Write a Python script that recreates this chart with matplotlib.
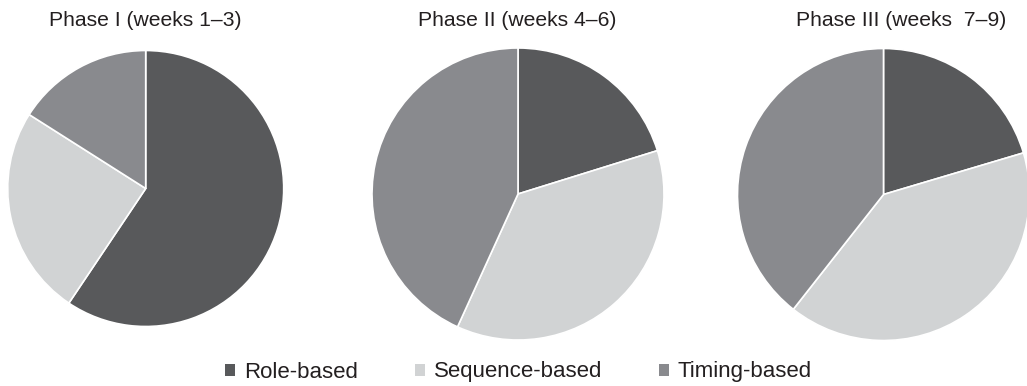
import matplotlib.pyplot as plt
from matplotlib.patches import Patch

plt.rcParams['font.family'] = ['Liberation Sans', 'DejaVu Sans']

categories = ["Role-based", "Sequence-based", "Timing-based"]
phase_titles = ["Phase I (weeks 1–3)", "Phase II (weeks 4–6)", "Phase III (weeks  7–9)"]
phase1 = [59.4, 24.6, 16.0]
phase2 = [20.2, 36.6, 43.2]
phase3 = [20.4, 40.2, 39.4]
colors = ["#58595b", "#d1d3d4", "#898a8e"]

W, H = 1027, 386
fig = plt.figure(figsize=(W / 100, H / 100), dpi=100)

# pie centre (px), radius (px), title centre x (px)
layout = [
    (145.7, 188.5, 138, 145.5),
    (518.0, 194.0, 146, 517.5),
    (883.5, 194.5, 146, 901.5),
]

for vals, title, (cx, cy, r, tx) in zip([phase1, phase2, phase3], phase_titles, layout):
    ax = fig.add_axes([(cx - r) / W, 1 - (cy + r) / H, 2 * r / W, 2 * r / H])
    ax.pie(vals, colors=colors, startangle=90, counterclock=False,
           wedgeprops=dict(edgecolor="white", linewidth=1.2))
    ax.set_xlim(-1, 1)
    ax.set_ylim(-1, 1)
    ax.set_aspect("equal")
    fig.text(tx / W, 1 - 21 / H, title, ha="center", va="center",
             fontsize=15.2, color="#231f20")

handles = [Patch(facecolor=c, edgecolor="none") for c in colors]
fig.legend(handles, categories, loc="center", bbox_to_anchor=(518.5 / W, 1 - 372 / H),
           ncol=3, frameon=False, fontsize=16, handlelength=0.45, handleheight=0.45,
           handletextpad=0.4, columnspacing=2.55, labelcolor="#231f20",
           borderpad=0)

fig.savefig("out.png", dpi=100)
